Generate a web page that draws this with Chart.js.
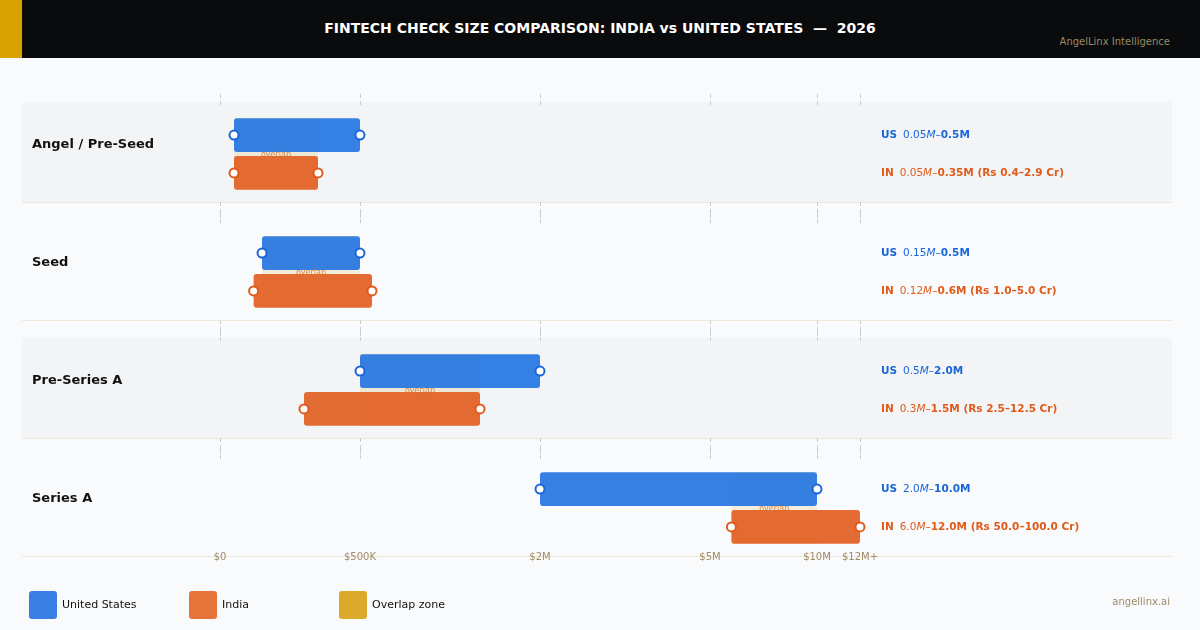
<!DOCTYPE html>
<html>
<head>
<meta charset="utf-8">
<script src="https://cdn.jsdelivr.net/npm/chart.js@4/dist/chart.umd.min.js"></script>
<style>
body { margin: 0; width: 1200px; height: 630px; background: #f9fafc; font-family: "DejaVu Sans", sans-serif; overflow: hidden; position: relative; }
#hdr { position: absolute; left: 0; top: 0; width: 1200px; height: 58px; background: #0a0b0d; }
#hdr .acc { position: absolute; left: 0; top: 0; width: 22px; height: 58px; background: #d9a100; }
#hdr .t { position: absolute; left: 0; width: 1200px; top: 20px; text-align: center; color: #fff; font-weight: bold; font-size: 14px; }
#hdr .s { position: absolute; right: 30px; top: 36px; color: #9a8a66; font-size: 10px; }
#wrap { position: absolute; left: 0; top: 58px; width: 1200px; height: 572px; }
.lg { position: absolute; top: 591px; font-size: 11px; color: #111; }
.lg i { display: inline-block; width: 28px; height: 28px; border-radius: 3px; vertical-align: middle; margin-right: 5px; }
#foot { position: absolute; right: 30px; top: 596px; font-size: 10px; color: #9a8a66; }
</style>
</head>
<body>
<div id="hdr"><div class="acc"></div><div class="t">FINTECH CHECK SIZE COMPARISON: INDIA vs UNITED STATES &nbsp;—&nbsp; 2026</div><div class="s">AngelLinx Intelligence</div></div>
<div id="wrap"><canvas id="myChart" width="1200" height="572"></canvas></div>
<div class="lg" style="left:29px"><i style="background:#3a7fe3"></i>United States</div>
<div class="lg" style="left:189px"><i style="background:#e5733a"></i>India</div>
<div class="lg" style="left:339px"><i style="background:#dcaa2a"></i>Overlap zone</div>
<div id="foot">angellinx.ai</div>
<script>
var stages = ["Angel / Pre-Seed", "Seed", "Pre-Series A", "Series A"];
var usLow = [0.05, 0.15, 0.5, 2.0];
var usHigh = [0.5, 0.5, 2.0, 10.0];
var inLow = [0.05, 0.12, 0.3, 6.0];
var inHigh = [0.35, 0.6, 1.5, 12.0];
var inrText = ["Rs 0.4–2.9 Cr", "Rs 1.0–5.0 Cr", "Rs 2.5–12.5 Cr", "Rs 50.0–100.0 Cr"];
var tickVals = [0, 0.5, 2, 5, 10, 12];
var tickLabels = ["$0", "$500K", "$2M", "$5M", "$10M", "$12M+"];
// piecewise axis: each tick gets its own stretch of the axis
var tickPos = [0, 140, 320, 490, 597, 640];

function warp(v) {
    for (var i = 1; i < tickVals.length; i++) {
        if (v <= tickVals[i]) {
            var f = (v - tickVals[i - 1]) / (tickVals[i] - tickVals[i - 1]);
            return tickPos[i - 1] + f * (tickPos[i] - tickPos[i - 1]);
        }
    }
    return tickPos[tickPos.length - 1];
}

function fmt(v) { return v < 0.1 || (v * 100) % 10 != 0 ? v.toFixed(2) : v.toFixed(1); }

var US = "#1a66d9", IN = "#e05a1a";

var decor = {
    id: "decor",
    beforeDatasetsDraw: function (chart) {
        var ctx = chart.ctx, x = chart.scales.x, y = chart.scales.y;
        ctx.save();
        stages.forEach(function (s, i) {
            var c = y.getPixelForValue(i);
            if (i % 2 == 0) { ctx.fillStyle = "#f3f4f6"; ctx.fillRect(22, c - 52, 1150, 100); }
            ctx.fillStyle = "#efe8da"; ctx.fillRect(22, c + 48, 1150, 1);
            ctx.strokeStyle = "#c9ccd4"; ctx.setLineDash([4, 3]); ctx.lineWidth = 1;
            tickVals.forEach(function (t) {
                var px = Math.round(x.getPixelForValue(warp(t))) + 0.5;
                ctx.beginPath(); ctx.moveTo(px, c - 60); ctx.lineTo(px, c - 46); ctx.stroke();
                if (i < stages.length - 1) { ctx.beginPath(); ctx.moveTo(px, c + 48); ctx.lineTo(px, c + 64); ctx.stroke(); }
            });
            ctx.setLineDash([]);
            // overlap zone
            var lo = Math.max(usLow[i], inLow[i]), hi = Math.min(usHigh[i], inHigh[i]);
            if (hi > lo) {
                var a = x.getPixelForValue(warp(lo)), b = x.getPixelForValue(warp(hi));
                ctx.fillStyle = "rgba(220,170,42,0.15)";
                ctx.fillRect(a, c - 36, b - a, 72);
            }
            ctx.fillStyle = "#111"; ctx.font = "bold 13px 'DejaVu Sans'"; ctx.textBaseline = "middle";
            ctx.fillText(s, 32, c - 9);
        });
        ctx.restore();
    },
    afterDatasetsDraw: function (chart) {
        var ctx = chart.ctx, x = chart.scales.x, y = chart.scales.y;
        ctx.save();
        [0, 1].forEach(function (d) {
            var col = d == 0 ? US : IN;
            chart.getDatasetMeta(d).data.forEach(function (bar) {
                [bar.base, bar.x].forEach(function (px) {
                    ctx.beginPath(); ctx.arc(px, bar.y, 4.5, 0, Math.PI * 2);
                    ctx.fillStyle = "#fff"; ctx.fill();
                    ctx.lineWidth = 2; ctx.strokeStyle = col; ctx.stroke();
                });
            });
        });
        stages.forEach(function (s, i) {
            var c = y.getPixelForValue(i);
            var lo = Math.max(usLow[i], inLow[i]), hi = Math.min(usHigh[i], inHigh[i]);
            ctx.textBaseline = "middle"; ctx.textAlign = "center";
            if (hi > lo) {
                ctx.fillStyle = "rgba(214,110,30,0.85)"; ctx.font = "8px 'DejaVu Sans'";
                ctx.fillText("overlap", (x.getPixelForValue(warp(lo)) + x.getPixelForValue(warp(hi))) / 2, c + 1);
            }
            ctx.textAlign = "left";
            var rows = [["US", US, usLow[i], usHigh[i], "", c - 19], ["IN", IN, inLow[i], inHigh[i], " (" + inrText[i] + ")", c + 19]];
            rows.forEach(function (r) {
                var px = 881;
                ctx.fillStyle = r[1];
                ctx.font = "bold 10.5px 'DejaVu Sans'"; ctx.fillText(r[0], px, r[5]); px += ctx.measureText(r[0]).width + 6;
                ctx.font = "10.5px 'DejaVu Sans'"; var t = fmt(r[2]); ctx.fillText(t, px, r[5]); px += ctx.measureText(t).width;
                ctx.font = "italic 10.5px 'DejaVu Sans'"; ctx.fillText("M", px, r[5]); px += ctx.measureText("M").width;
                ctx.font = "10.5px 'DejaVu Sans'"; ctx.fillText("–", px, r[5]); px += ctx.measureText("–").width;
                ctx.font = "bold 10.5px 'DejaVu Sans'"; ctx.fillText(fmt(r[3]) + "M" + r[4], px, r[5]);
            });
        });
        ctx.fillStyle = "#a08c64"; ctx.font = "10px 'DejaVu Sans'"; ctx.textAlign = "center";
        tickVals.forEach(function (t, k) {
            ctx.fillText(tickLabels[k], x.getPixelForValue(warp(t)), 499);
        });
        ctx.restore();
    }
};

var myChart = new Chart("myChart", {
    type: "bar",
    data: {
        labels: stages,
        datasets: [{
            label: "United States",
            data: stages.map(function (s, i) { return [warp(usLow[i]), warp(usHigh[i])]; }),
            backgroundColor: "rgba(37,117,226,0.92)",
            borderRadius: 3,
            borderSkipped: false
        }, {
            label: "India",
            data: stages.map(function (s, i) { return [warp(inLow[i]), warp(inHigh[i])]; }),
            backgroundColor: "rgba(226,96,35,0.92)",
            borderRadius: 3,
            borderSkipped: false
        }]
    },
    plugins: [decor],
    options: {
        indexAxis: "y",
        responsive: false,
        animation: false,
        categoryPercentage: 0.64,
        barPercentage: 0.9,
        layout: { padding: { left: 220, right: 340, top: 37, bottom: 63 } },
        plugins: { legend: { display: false }, tooltip: { enabled: false } },
        scales: {
            x: { type: "linear", min: 0, max: 640, display: false },
            y: { display: false }
        }
    }
});
</script>
</body>
</html>
